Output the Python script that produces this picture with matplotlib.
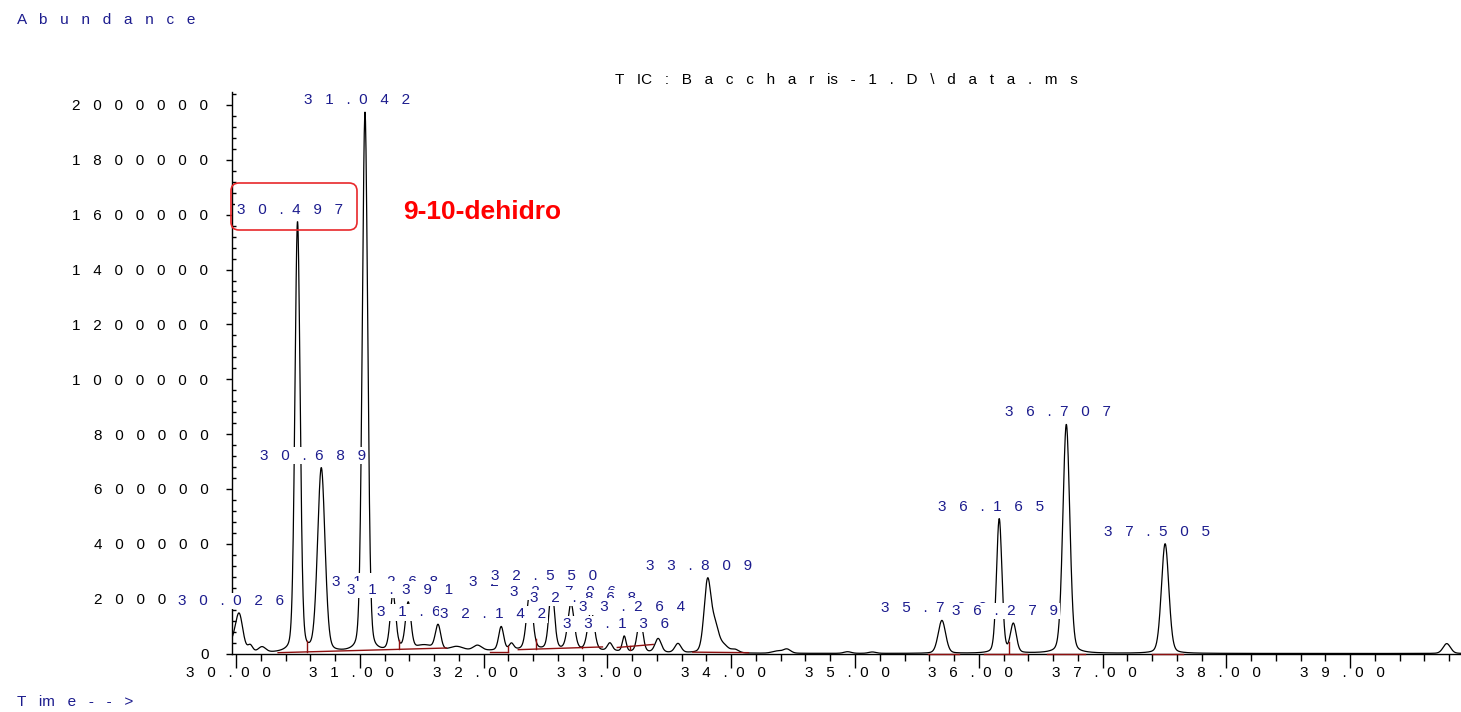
import numpy as np
import matplotlib
matplotlib.use("Agg")
import matplotlib.pyplot as plt
from matplotlib.patches import FancyBboxPatch
from matplotlib.ticker import MultipleLocator, FixedLocator
from matplotlib.transforms import ScaledTranslation

plt.rcParams['font.family'] = ['Liberation Sans', 'DejaVu Sans']

NAVY = '#1c1c8e'
BASE_RED = '#8e1010'

# peaks of the TIC trace: retention time (min), amplitude, width (sigma, min)
peak_rt = [29.97, 30.026, 30.115, 30.21, 30.497, 30.689, 31.042, 31.268, 31.30,
           31.391, 31.52, 31.632, 31.78, 31.95, 32.142, 32.225, 32.372, 32.50,
           32.550, 32.706, 32.868, 33.02, 33.136, 33.264, 33.41, 33.57, 33.809,
           33.87, 33.94, 34.03, 34.37, 34.45, 34.94, 35.14, 35.702, 36.165,
           36.279, 36.707, 37.505, 39.78]
peak_h = [32000, 133000, 25000, 20000, 1570000, 670000, 1970000, 195000, 15000,
          170000, 25000, 90000, 18000, 20000, 85000, 22000, 200000, 15000,
          222000, 165000, 145000, 28000, 55000, 120000, 50000, 33000, 260000,
          90000, 25000, 12000, 8000, 15000, 6000, 5000, 120000, 490000,
          105000, 835000, 400000, 36000]
peak_w = [0.04, 0.03, 0.02, 0.03, 0.021, 0.03, 0.022, 0.022, 0.06,
          0.022, 0.08, 0.022, 0.06, 0.035, 0.02, 0.018, 0.025, 0.5,
          0.022, 0.026, 0.026, 0.02, 0.015, 0.022, 0.025, 0.025, 0.028,
          0.03, 0.035, 0.03, 0.04, 0.03, 0.03, 0.03, 0.03, 0.022,
          0.024, 0.028, 0.03, 0.03]

# integrated peaks that carry a retention time label
label_rt = [30.026, 30.497, 30.689, 31.042, 31.268, 31.391, 31.632, 32.142,
            32.372, 32.550, 32.706, 32.868, 33.136, 33.264, 33.809, 35.702,
            36.165, 36.279, 36.707, 37.505]

# integration baselines (start, end, abundance at start, abundance at end)
base_t0 = [30.34, 32.05, 32.28, 33.08, 33.69, 35.59, 36.04, 36.55, 37.40]
base_t1 = [31.70, 32.197, 32.96, 33.37, 34.14, 35.84, 36.39, 36.86, 37.65]
base_a0 = [3000, 7000, 14000, 22000, 5000, 0, 0, 0, 0]
base_a1 = [20000, 7000, 24000, 33000, 3000, 0, 0, 0, 0]
drop_t = [30.574, 31.317, 32.197, 32.42, 32.795, 33.18, 36.24]


def spaced(s):
    out = ''
    for i, c in enumerate(s):
        out += c
        if i < len(s) - 1:
            out += '  ' if c == '.' else '   '
    return out


eta = 0.2
t = np.arange(29.9, 40.0, 0.002)
tic = np.zeros_like(t)
for rt, h, s in zip(peak_rt, peak_h, peak_w):
    hw = 1.1774 * s
    tic += h * ((1 - eta) * np.exp(-(t - rt) ** 2 / (2 * s * s)) + eta / (1 + ((t - rt) / hw) ** 2))

W, H = 1461, 712
fig = plt.figure(figsize=(W / 100, H / 100), dpi=100)
ax = fig.add_axes([232 / W, 1 - 653.5 / H, 1 - 232 / W, (653.5 - 92) / H])

ax.plot(t, tic, color='black', lw=0.9, zorder=2)

# baselines and drop lines
for a, b, ya, yb in zip(base_t0, base_t1, base_a0, base_a1):
    ax.plot([a, b], [ya, yb], color=BASE_RED, lw=1, zorder=2.6, clip_on=False)
for d in drop_t:
    for a, b, ya, yb in zip(base_t0, base_t1, base_a0, base_a1):
        if a <= d <= b:
            y0 = ya + (yb - ya) * (d - a) / (b - a)
            ax.plot([d, d], [y0, np.interp(d, t, tic)], color=BASE_RED, lw=1, zorder=2.6)

# peak labels
for rt in label_rt:
    y = np.interp(rt, t, tic)
    ax.annotate(spaced('%.3f' % rt), xy=(rt, y), xytext=(-8, 12), textcoords='offset pixels',
                ha='center', va='center', color=NAVY, fontsize=11, zorder=3,
                bbox=dict(fc='white', ec='none', pad=1))

ax.set_xlim(29.9677, 39.895)
ax.set_ylim(0, 2047400)

xt = np.arange(30, 40)
ax.xaxis.set_major_locator(FixedLocator(xt))
ax.set_xticklabels([spaced('%.2f' % v) for v in xt])
ax.xaxis.set_minor_locator(MultipleLocator(0.2))
yt = np.arange(0, 2000001, 200000)
ax.yaxis.set_major_locator(FixedLocator(yt))
ax.set_yticklabels([spaced(str(int(v))) for v in yt])
ax.yaxis.set_minor_locator(MultipleLocator(40000))

ax.tick_params(axis='x', which='major', direction='out', length=10, width=1, pad=-1, labelsize=11)
ax.tick_params(axis='x', which='minor', direction='out', length=5, width=1)
ax.tick_params(axis='y', which='major', direction='out', length=4, width=1, pad=13, labelsize=11)
ax.tick_params(axis='y', which='minor', direction='in', length=3, width=1)
for lab in ax.get_xticklabels():
    lab.set_transform(lab.get_transform() + ScaledTranslation(-0.08, 0, fig.dpi_scale_trans))

for sp in ['top', 'right']:
    ax.spines[sp].set_visible(False)
for sp in ['left', 'bottom']:
    ax.spines[sp].set_linewidth(1)

fig.text(17 / W, 1 - 20 / H, spaced('Abundance'), color=NAVY, fontsize=11, ha='left', va='center')
fig.text(17 / W, 1 - 702 / H, '   '.join(['T', 'im', 'e', '-', '-', '>']), color=NAVY,
         fontsize=11, ha='left', va='center')
title_parts = ['T', 'IC', ':', 'B', 'a', 'c', 'c', 'h', 'a', 'r', 'is', '-', '1', '.', 'D',
               '\\', 'd', 'a', 't', 'a', '.', 'm', 's']
fig.text(846 / W, 1 - 80 / H, '   '.join(title_parts), color='black', fontsize=11,
         ha='center', va='center')

# highlight of the 30.497 peak
box = FancyBboxPatch((2.31, (H - 230) / 100), 1.26, 0.47, boxstyle='round,pad=0,rounding_size=0.08',
                     transform=fig.dpi_scale_trans, fc='none', ec='#e8282a', lw=1.2)
fig.add_artist(box)
fig.text(403 / W, 1 - 212 / H, '9-10-dehidro', color='red', fontsize=19, fontweight='bold',
         ha='left', va='center')

fig.savefig('out.png', dpi=100)
